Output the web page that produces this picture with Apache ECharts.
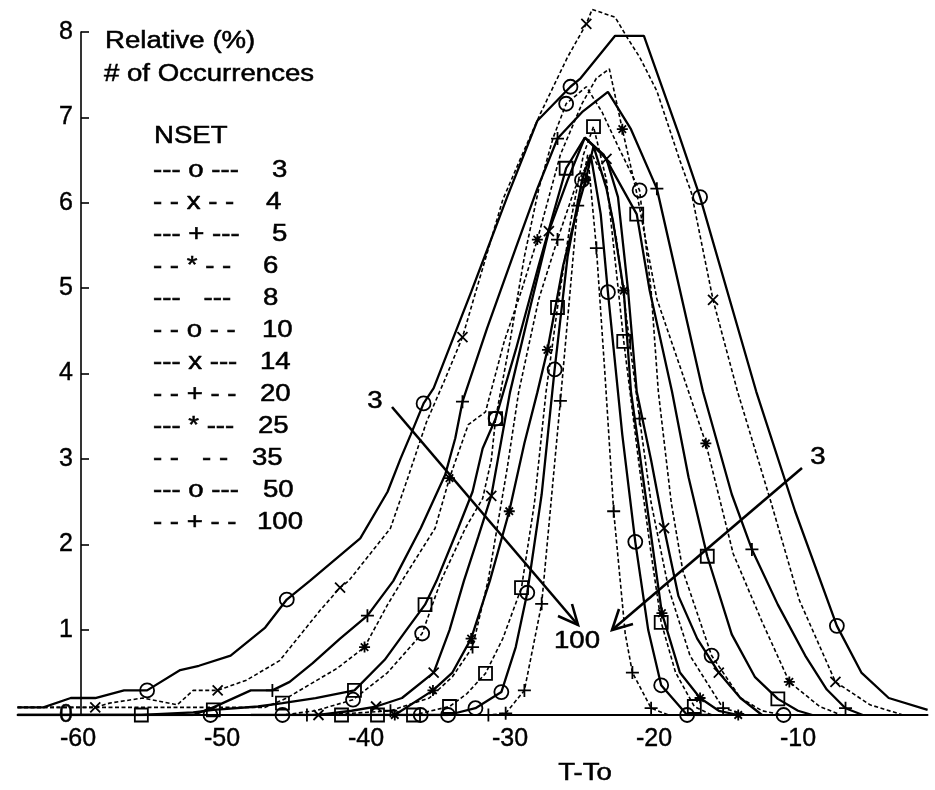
<!DOCTYPE html>
<html><head><meta charset="utf-8">
<script src="https://cdn.jsdelivr.net/npm/echarts@6/dist/echarts.min.js"></script>
<style>html,body{margin:0;padding:0;background:#fff}#c{width:935px;height:790px}</style>
</head><body><div id="c"></div>
<script>
// ---------- data ----------
const xTicks = [-60, -50, -40, -30, -20, -10];
const nsetLabels = ['3','4','5','6','8','10','14','20','25','35','50','100'];
const legendPatterns = ['--- o ---','- - x - -','--- + ---','- - * - -','---   ---','- - o - -','--- x ---','- - + - -','--- * ---','- -   - -','--- o ---','- - + - -'];
const titleLines = ['Relative (%)', '# of Occurrences'];
const legendTitle = 'NSET';
const xName = 'T-To';
const arrowLabels = ['3', '100', '3'];

// [x, y, markerFlag]
const n3 = [[-64.2,0.09,0],[-62.4,0.09,0],[-60.5,0.2,0],[-58.8,0.2,0],[-56.8,0.29,0],[-55.2,0.29,1],[-52.9,0.53,0],[-51.6,0.58,0],[-49.4,0.70,0],[-47.0,1.03,0],[-45.5,1.36,1],[-43.9,1.58,0],[-40.4,2.08,0],[-38.5,2.63,0],[-37.6,3.02,0],[-36.9,3.30,0],[-36.0,3.67,1],[-35.3,3.85,0],[-32.7,4.98,0],[-30.2,6.1,0],[-28.1,7.0,0],[-25.8,7.4,1],[-25.1,7.5,0],[-22.7,8.0,0],[-20.7,8.0,0],[-18.3,6.85,0],[-16.8,6.1,1],[-12.9,3.81,0],[-10.2,2.4,0],[-7.3,1.05,1],[-5.6,0.5,0],[-3.7,0.2,0],[-1.0,0.06,0]];
const n4 = [[-64.2,0.09,0],[-60.8,0.09,0],[-58.8,0.09,1],[-57.8,0.14,0],[-55.5,0.2,0],[-53.1,0.12,0],[-52.0,0.29,0],[-50.3,0.29,1],[-48.3,0.41,0],[-46.0,0.64,0],[-43.2,1.23,0],[-41.8,1.5,1],[-41.2,1.58,0],[-38.3,2.2,0],[-37.1,2.79,0],[-35.8,3.45,0],[-34.6,3.92,0],[-33.3,4.45,1],[-30.5,6.07,0],[-29.1,6.62,0],[-27.9,7.08,0],[-26.0,7.75,0],[-24.7,8.14,1],[-24.3,8.31,0],[-22.7,8.22,0],[-21.9,7.99,0],[-21.0,7.75,0],[-19.8,7.35,0],[-18.2,6.53,0],[-17.4,6.15,0],[-15.9,4.89,1],[-14.2,3.81,0],[-11.9,2.52,0],[-9.9,1.35,0],[-7.4,0.39,1],[-5.0,0.12,0],[-2.7,0,0]];
const n5 = [[-64.2,0,0],[-52.0,0,0],[-50.6,0.09,0],[-48.0,0.29,0],[-46.5,0.29,1],[-45.3,0.39,0],[-43.7,0.61,0],[-41.8,0.9,0],[-39.9,1.17,1],[-38.1,1.58,0],[-36.2,2.2,0],[-34.5,2.83,0],[-33.8,3.26,0],[-33.3,3.69,1],[-31.6,4.55,0],[-29.6,5.5,0],[-28.1,6.2,0],[-26.7,6.79,1],[-25.0,7.1,0],[-23.2,7.34,0],[-21.6,6.9,0],[-19.8,6.2,1],[-16.6,3.81,0],[-14.6,2.6,0],[-13.2,1.95,1],[-11.4,1.3,0],[-9.5,0.7,0],[-8.0,0.3,0],[-6.7,0.08,1],[-5.5,0,0]];
const n6 = [[-64.2,0.09,0],[-47.0,0.09,0],[-45.5,0.2,0],[-43.5,0.4,0],[-42.0,0.55,0],[-40.1,0.8,1],[-38.5,1.3,0],[-37.5,1.58,0],[-35.2,2.2,0],[-34.2,2.79,1],[-32.9,3.42,0],[-31.7,3.57,0],[-30.4,4.4,0],[-29.2,5.0,0],[-28.1,5.6,1],[-26.5,6.6,0],[-25.0,7.2,0],[-24.0,7.5,0],[-23.1,7.61,0],[-22.2,6.9,1],[-21.2,6.15,0],[-19.8,4.9,0],[-17.6,3.81,0],[-16.4,3.2,1],[-14.5,1.9,0],[-12.5,1.1,0],[-10.6,0.39,1],[-8.5,0.1,0],[-7.0,0,0]];
const n8 = [[-64.2,0,0],[-55.6,0,1],[-52.0,0.03,0],[-50.6,0.06,1],[-47.5,0.1,0],[-45.8,0.14,1],[-43.5,0.2,0],[-40.8,0.29,1],[-38.7,0.65,0],[-37.2,1.0,0],[-35.9,1.3,1],[-35.1,1.58,0],[-33.6,2.2,0],[-32.6,2.63,0],[-31.9,3.14,0],[-31.0,3.49,1],[-29.6,4.3,0],[-28.0,5.3,0],[-26.1,6.44,1],[-24.8,6.8,0],[-23.5,6.6,0],[-21.2,5.9,1],[-20.3,5.0,0],[-18.75,3.81,0],[-17.6,2.8,0],[-16.3,1.87,1],[-14.6,0.95,0],[-13.0,0.45,0],[-11.4,0.19,1],[-10.0,0.05,0],[-9.0,0,0]];
const n10 = [[-60.0,0,0],[-50.8,0,1],[-45.8,0,1],[-43.5,0.05,0],[-40.9,0.18,1],[-38.5,0.5,0],[-36.1,0.96,1],[-34.8,1.58,0],[-33.1,2.2,0],[-31.9,2.55,0],[-31.3,3.0,0],[-31.0,3.49,1],[-30.0,4.4,0],[-29.0,5.4,0],[-28.0,6.2,0],[-27.0,6.8,0],[-26.1,7.2,1],[-24.7,7.4,0],[-23.6,7.1,0],[-22.5,6.7,0],[-21.0,6.18,1],[-20.2,5.0,0],[-19.7,3.81,0],[-18.8,2.5,0],[-18.0,1.7,0],[-16.0,0.7,1],[-14.0,0.2,0],[-12.5,0.05,0],[-11.0,0,1],[-10.0,0,0]];
const n14 = [[-48.0,0,0],[-43.3,0,1],[-41.0,0.05,0],[-39.3,0.1,1],[-37.5,0.2,0],[-35.3,0.5,1],[-34.2,1.0,0],[-33.2,1.58,0],[-32.2,2.1,0],[-31.3,2.58,1],[-30.0,3.8,0],[-28.6,4.8,0],[-27.3,5.7,1],[-26.0,6.3,0],[-24.8,6.8,0],[-23.3,6.55,1],[-22.5,6.1,0],[-21.8,5.0,0],[-21.2,3.81,0],[-20.2,3.0,0],[-19.3,2.2,1],[-18.3,1.4,0],[-17.0,0.9,0],[-15.5,0.5,1],[-14.0,0.2,0],[-12.5,0,0]];
const n20 = [[-50.0,0,0],[-44.1,0,1],[-41.0,0.02,0],[-38.3,0.05,1],[-35.6,0.2,0],[-34.0,0.45,0],[-32.6,0.8,1],[-31.5,1.6,0],[-30.2,2.9,0],[-29.4,3.8,0],[-28.0,4.9,0],[-26.7,5.6,1],[-25.5,6.2,0],[-24.3,6.6,0],[-23.4,6.3,0],[-22.6,5.6,0],[-21.7,4.4,0],[-21.0,3.49,1],[-20.2,2.5,0],[-19.0,1.5,0],[-17.5,0.7,0],[-15.2,0.08,1],[-13.5,0,0]];
const n25 = [[-42.0,0,0],[-38.0,0,1],[-35.35,0.29,1],[-34.0,0.5,0],[-32.7,0.9,1],[-31.4,1.58,0],[-30.05,2.4,1],[-29.0,3.2,0],[-28.1,3.8,0],[-27.4,4.3,1],[-26.3,5.3,0],[-25.3,5.97,0],[-24.75,6.3,1],[-24.2,6.7,0],[-23.3,6.2,0],[-22.85,5.82,0],[-22.1,5.0,1],[-21.6,3.81,0],[-20.6,2.6,0],[-19.45,1.2,1],[-18.2,0.5,0],[-16.8,0.2,1],[-15.5,0.05,0],[-14.15,0,1]];
const n35 = [[-44.0,0,0],[-41.7,0,1],[-39.2,0,1],[-36.7,0,1],[-34.2,0.1,1],[-33.0,0.25,0],[-31.7,0.49,1],[-30.5,0.9,0],[-29.2,1.5,1],[-28.3,2.5,0],[-27.5,3.8,0],[-26.7,4.8,1],[-25.8,5.8,0],[-24.9,6.6,0],[-24.2,6.93,1],[-23.3,6.3,0],[-22.6,5.2,0],[-22.1,4.4,1],[-21.0,2.9,0],[-20.2,1.9,0],[-19.5,1.09,1],[-18.5,0.5,0],[-17.2,0.1,1],[-16.0,0,0]];
const n50 = [[-38.0,0,0],[-36.2,0,1],[-34.3,0,1],[-32.4,0.08,1],[-30.6,0.27,1],[-29.6,0.8,0],[-28.8,1.44,1],[-27.8,2.6,0],[-26.9,4.07,1],[-26.0,5.4,0],[-25.0,6.3,1],[-24.4,6.6,0],[-23.7,5.9,0],[-23.2,4.98,1],[-22.2,3.3,0],[-21.3,2.04,1],[-20.4,1.0,0],[-19.5,0.35,1],[-17.7,0,1],[-16.0,0,0]];
const n100 = [[-33.0,0,0],[-31.5,0,1],[-30.3,0.02,1],[-29.0,0.29,1],[-27.8,1.31,1],[-26.5,3.7,1],[-25.3,6.0,1],[-24.6,6.6,0],[-24.0,5.5,1],[-23.4,4.0,0],[-22.8,2.4,1],[-22.0,0.96,0],[-21.5,0.5,1],[-20.2,0.08,1],[-19.0,0,0]];

// ---------- styles ----------
const FONT = 'Liberation Sans, Arial, sans-serif';
const SYM = {
  o: 'circle',
  sq: 'rect',
  x: 'path://M0,0L10,10M10,0L0,10',
  p: 'path://M5,0L5,10M0,5L10,5',
  s: 'path://M5,0L5,10M0,5L10,5M1.6,1.6L8.4,8.4M8.4,1.6L1.6,8.4'
};
const SIZE = {o: 14, sq: 13, x: 10, p: 13, s: 11};
const curves = [
  [n3, false, 'o'], [n4, true, 'x'], [n5, false, 'p'], [n6, true, 's'],
  [n8, false, 'sq'], [n10, true, 'o'], [n14, false, 'x'], [n20, true, 'p'],
  [n25, false, 's'], [n35, true, 'sq'], [n50, false, 'o'], [n100, true, 'p']
];

const series = curves.map(([data, dashed, s]) => ({
  type: 'line', xAxisIndex: 0, yAxisIndex: 0, data: data,
  symbol: (v) => (v[2] ? SYM[s] : 'none'),
  symbolSize: SIZE[s], showSymbol: true, silent: true, animation: false,
  emphasis: {disabled: true},
  lineStyle: {color: '#000', width: dashed ? 1.6 : 2.3, type: dashed ? [4, 2.5] : 'solid'},
  itemStyle: {color: 'rgba(0,0,0,0)', borderColor: '#000', borderWidth: 1.8}
}));

// ---------- graphics (text + arrows) ----------
const graphics = [];
function txt(x, y, text, align, size) {
  graphics.push({type: 'text', x: x, y: y, scaleX: 1.2, z: 100,
    style: {x: 0, y: 0, text: text, fill: '#000', stroke: '#000', lineWidth: 0.5,
      font: (size || 23) + 'px ' + FONT,
      textAlign: align || 'left', textVerticalAlign: 'middle'}});
}
txt(105, 42, titleLines[0]);
txt(104, 75, titleLines[1]);
txt(154, 137, legendTitle);
const numX = [272, 266, 272, 263, 263, 262, 260, 260, 258, 252, 263, 257];
nsetLabels.forEach((lab, i) => {
  const y = 171 + i * 32;
  txt(153, y, legendPatterns[i]);
  txt(numX[i], y, lab);
});
txt(375, 402, arrowLabels[0], 'center');
txt(577, 642, arrowLabels[1], 'center');
txt(818, 458, arrowLabels[2], 'center');
txt(585, 774, xName, 'center');

function pl(points) {
  graphics.push({type: 'polyline', z: 100, shape: {points: points},
    style: {stroke: '#000', lineWidth: 2.6, fill: null}});
}
pl([[392, 407], [578, 625]]);
pl([[572, 604], [578, 625], [558, 616]]);
pl([[802, 468], [612, 630]]);
pl([[633, 624], [612, 630], [619, 609]]);

const chart = echarts.init(document.getElementById('c'), null, {renderer: 'canvas'});
const axisText = {color: '#000', fontSize: 25, fontFamily: FONT, textBorderColor: '#000', textBorderWidth: 0.4};
chart.setOption({
  animation: false,
  backgroundColor: '#fff',
  grid: [
    {left: 17.5, right: 7.4, top: 1.85, bottom: 75},
    {left: 81, width: 10, top: 32, bottom: 75}
  ],
  xAxis: [
    {type: 'value', gridIndex: 0, min: -64.2, max: -1,
     axisLine: {show: true, lineStyle: {color: '#000', width: 1.8}},
     axisTick: {show: false}, splitLine: {show: false},
     axisLabel: Object.assign({customValues: xTicks, margin: 12}, axisText)},
    {type: 'value', gridIndex: 1, show: false, min: 0, max: 1}
  ],
  yAxis: [
    {type: 'value', gridIndex: 0, min: 0, max: 8.4, show: false},
    {type: 'value', gridIndex: 1, min: 0, max: 8, interval: 1,
     axisLine: {show: true, lineStyle: {color: '#000', width: 1.6}},
     axisTick: {show: true, inside: true, length: 8, lineStyle: {color: '#000', width: 1.6}},
     splitLine: {show: false},
     axisLabel: Object.assign({margin: 8}, axisText)}
  ],
  series: series,
  graphic: graphics
});
</script>
</body></html>
